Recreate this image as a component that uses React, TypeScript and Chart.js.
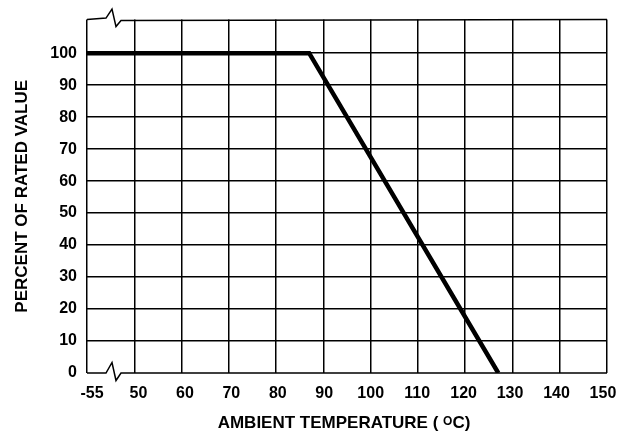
import React, { useEffect, useRef } from 'react';
import { Chart, registerables } from 'chart.js';

Chart.register(...registerables);

// Axis tick values (the -55 tick sits just left of an axis break, drawn at axis value 40)
const xTickValues = [40, 50, 60, 70, 80, 90, 100, 110, 120, 130, 140, 150];
const xTickLabels = ['-55', '50', '60', '70', '80', '90', '100', '110', '120', '130', '140', '150'];
const yTickValues = [0, 10, 20, 30, 40, 50, 60, 70, 80, 90, 100];

// Derating curve: ambient temperature (°C) vs percent of rated value
const temperatures = [-55, 87, 127];
const percentRated = [100, 100, 0];

const BREAK_REAL = -55;
const BREAK_AXIS = 40;
const toAxisX = (t: number) => (t === BREAK_REAL ? BREAK_AXIS : t);

const FONT_FAMILY = '"Liberation Sans", Arial, Helvetica, sans-serif';

const framePlugin = {
  id: 'frameAndTitles',
  afterDraw(chart: any) {
    const { ctx, chartArea } = chart;
    const { left, right, top, bottom } = chartArea;
    ctx.save();
    ctx.strokeStyle = '#000';
    ctx.lineWidth = 1.5;
    ctx.lineJoin = 'miter';
    // top border with axis-break symbol
    ctx.beginPath();
    ctx.moveTo(left, top);
    ctx.lineTo(left + 19, top - 1.5);
    ctx.lineTo(left + 25, top - 10.5);
    ctx.lineTo(left + 29, top + 7);
    ctx.lineTo(left + 34, top + 1);
    ctx.lineTo(right, top);
    ctx.stroke();
    // bottom border with axis-break symbol
    ctx.beginPath();
    ctx.moveTo(left, bottom);
    ctx.lineTo(left + 19, bottom);
    ctx.lineTo(left + 25, bottom - 10.5);
    ctx.lineTo(left + 29, bottom + 7.5);
    ctx.lineTo(left + 34, bottom);
    ctx.lineTo(right, bottom);
    ctx.stroke();

    // X title with superscript O
    ctx.fillStyle = '#000';
    ctx.textBaseline = 'alphabetic';
    ctx.textAlign = 'left';
    const mainFont = `bold 17px ${FONT_FAMILY}`;
    const supFont = `bold 12px ${FONT_FAMILY}`;
    const part1 = 'AMBIENT TEMPERATURE ( ';
    const sup = 'O';
    const part2 = 'C)';
    ctx.font = mainFont;
    const w1 = ctx.measureText(part1).width;
    const w3 = ctx.measureText(part2).width;
    ctx.font = supFont;
    const w2 = ctx.measureText(sup).width;
    const total = w1 + w2 + w3;
    const cx = (left + right) / 2 - 3;
    let x = cx - total / 2;
    const baseY = 428;
    ctx.font = mainFont;
    ctx.fillText(part1, x, baseY);
    x += w1;
    ctx.font = supFont;
    ctx.fillText(sup, x, baseY - 3.5);
    x += w2;
    ctx.font = mainFont;
    ctx.fillText(part2, x, baseY);

    // Y title
    ctx.save();
    ctx.translate(27, (top + bottom) / 2);
    ctx.rotate(-Math.PI / 2);
    ctx.textAlign = 'center';
    ctx.font = mainFont;
    ctx.fillText('PERCENT OF RATED VALUE', 0, 0);
    ctx.restore();

    ctx.restore();
  },
};

export default function App() {
  const canvasRef = useRef<HTMLCanvasElement | null>(null);

  useEffect(() => {
    const canvas = canvasRef.current;
    if (!canvas) return;
    const points = temperatures.map((t, i) => ({ x: toAxisX(t), y: percentRated[i] }));
    const tickFont = { family: FONT_FAMILY, size: 16, weight: 'bold' as const };

    const chart = new Chart(canvas, {
      type: 'line',
      data: {
        datasets: [
          {
            data: points,
            borderColor: '#000',
            borderWidth: 4.5,
            pointRadius: 0,
            fill: false,
            tension: 0,
            borderJoinStyle: 'miter',
            borderCapStyle: 'butt',
          },
        ],
      },
      options: {
        animation: false,
        responsive: false,
        devicePixelRatio: 1,
        layout: { padding: { top: 18, right: 29, left: 0, bottom: 0 } },
        plugins: {
          legend: { display: false },
          tooltip: { enabled: false },
          title: { display: false },
        },
        scales: {
          x: {
            type: 'linear',
            position: 'bottom',
            min: BREAK_AXIS,
            max: 150,
            afterBuildTicks: (scale: any) => {
              scale.ticks = xTickValues.map((v) => ({ value: v }));
            },
            ticks: { display: false },
            grid: { color: '#000', lineWidth: 1.5, drawTicks: false },
            border: { display: false },
            afterFit: (scale: any) => {
              scale.height = 0;
            },
          },
          xl: {
            type: 'linear',
            position: 'bottom',
            min: 38.92,
            max: 150.87,
            afterBuildTicks: (scale: any) => {
              scale.ticks = xTickValues.map((v) => ({ value: v }));
            },
            ticks: {
              color: '#000',
              font: tickFont,
              padding: 11,
              maxRotation: 0,
              autoSkip: false,
              callback: (v: any) => {
                const i = xTickValues.indexOf(Number(v));
                return i >= 0 ? xTickLabels[i] : '';
              },
            },
            grid: { display: false, drawTicks: false },
            border: { display: false },
            afterFit: (scale: any) => {
              scale.height = 63;
            },
          },
          y: {
            type: 'linear',
            min: 0,
            max: 110.5,
            afterBuildTicks: (scale: any) => {
              scale.ticks = yTickValues.map((v) => ({ value: v }));
            },
            ticks: {
              color: '#000',
              font: tickFont,
              padding: 10,
              autoSkip: false,
            },
            grid: {
              drawTicks: false,
              lineWidth: 1.5,
              color: (c: any) => (c.tick && c.tick.value === 0 ? 'rgba(0,0,0,0)' : '#000'),
            },
            border: { display: false },
            afterFit: (scale: any) => {
              scale.width = 87;
            },
          },
        },
      },
      plugins: [framePlugin],
    });
    return () => chart.destroy();
  }, []);

  return (
    <div style={{ position: 'absolute', left: 0, top: 0, width: 636, height: 436, background: '#fff' }}>
      <canvas ref={canvasRef} width={636} height={436} />
    </div>
  );
}
